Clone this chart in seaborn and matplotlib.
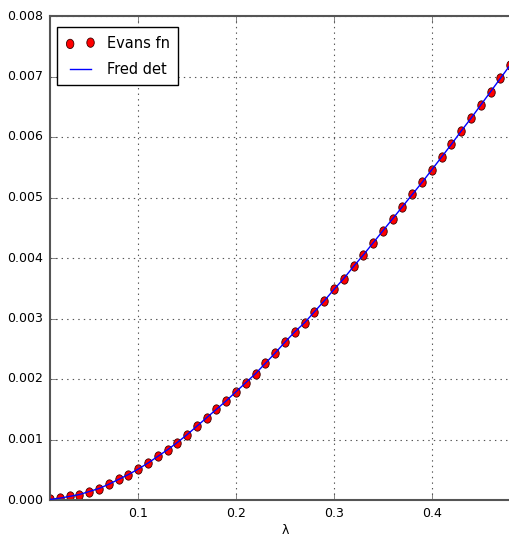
import matplotlib
matplotlib.use("Agg")
import matplotlib.pyplot as plt
import seaborn as sns
import numpy as np
import pandas as pd
from matplotlib.path import Path
from matplotlib.transforms import Affine2D

lam = [0.01, 0.02, 0.03, 0.04, 0.05, 0.06, 0.07, 0.08, 0.09, 0.10,
       0.11, 0.12, 0.13, 0.14, 0.15, 0.16, 0.17, 0.18, 0.19, 0.20,
       0.21, 0.22, 0.23, 0.24, 0.25, 0.26, 0.27, 0.28, 0.29, 0.30,
       0.31, 0.32, 0.33, 0.34, 0.35, 0.36, 0.37, 0.38, 0.39, 0.40,
       0.41, 0.42, 0.43, 0.44, 0.45, 0.46, 0.47, 0.48]
evans = [0.00001, 0.00003, 0.00006, 0.00009, 0.00014, 0.00019, 0.00026, 0.00034, 0.00042, 0.00051,
         0.00061, 0.00072, 0.00083, 0.00095, 0.00108, 0.00122, 0.00136, 0.00150, 0.00164, 0.00179,
         0.00194, 0.00209, 0.00226, 0.00243, 0.00261, 0.00278, 0.00293, 0.00311, 0.00329, 0.00348,
         0.00366, 0.00386, 0.00405, 0.00425, 0.00445, 0.00465, 0.00485, 0.00505, 0.00525, 0.00546,
         0.00567, 0.00588, 0.00610, 0.00631, 0.00653, 0.00675, 0.00697, 0.00719]
fred = list(evans)

df = pd.DataFrame({"lam": lam, "evans": evans, "fred": fred})

plt.style.use("classic")
plt.rcParams["font.family"] = ["DejaVu Sans"]
plt.rcParams["font.size"] = 9

fig = plt.figure(figsize=(5.1, 5.39), dpi=100, facecolor="white")
ax = fig.add_axes([50/510, 39/539, 470/510, 484/539])
ax.set_facecolor("white")

ell = Path.unit_circle().transformed(Affine2D().scale(0.8, 1.0))

sns.scatterplot(data=df, x="lam", y="evans", ax=ax, marker=ell, s=45,
                color="red", edgecolor="#3a0000", linewidth=0.6,
                label="Evans fn", zorder=2)
sns.lineplot(data=df, x="lam", y="fred", ax=ax, color="blue", linewidth=1.0,
             label="Fred det", zorder=3)

ax.set_xlim(0.01, 0.49)
ax.set_ylim(0.0, 0.008)
ax.set_xticks([0.1, 0.2, 0.3, 0.4])
ax.set_yticks(np.arange(0, 0.0081, 0.001))
ax.set_yticklabels(["%.3f" % v for v in np.arange(0, 0.0081, 0.001)])
ax.set_xlabel("λ", fontsize=9, labelpad=3)
ax.set_ylabel("")
ax.grid(True, linestyle=":", color="#555555", linewidth=0.8)
for s in ax.spines.values():
    s.set_color("#555555")
    s.set_linewidth(1.5)
ax.tick_params(direction="in", length=5, color="#555555", labelsize=9, pad=5)

leg = ax.legend(loc="upper left", scatterpoints=2, numpoints=2, fontsize=10.5,
                frameon=True, fancybox=False, borderpad=0.6, labelspacing=0.75,
                handlelength=2.0, borderaxespad=0.0,
                bbox_to_anchor=(7/470, 1 - 11/484))
leg.get_frame().set_edgecolor("black")
leg.get_frame().set_linewidth(1.0)

fig.savefig("out.png", dpi=100, facecolor="white")
